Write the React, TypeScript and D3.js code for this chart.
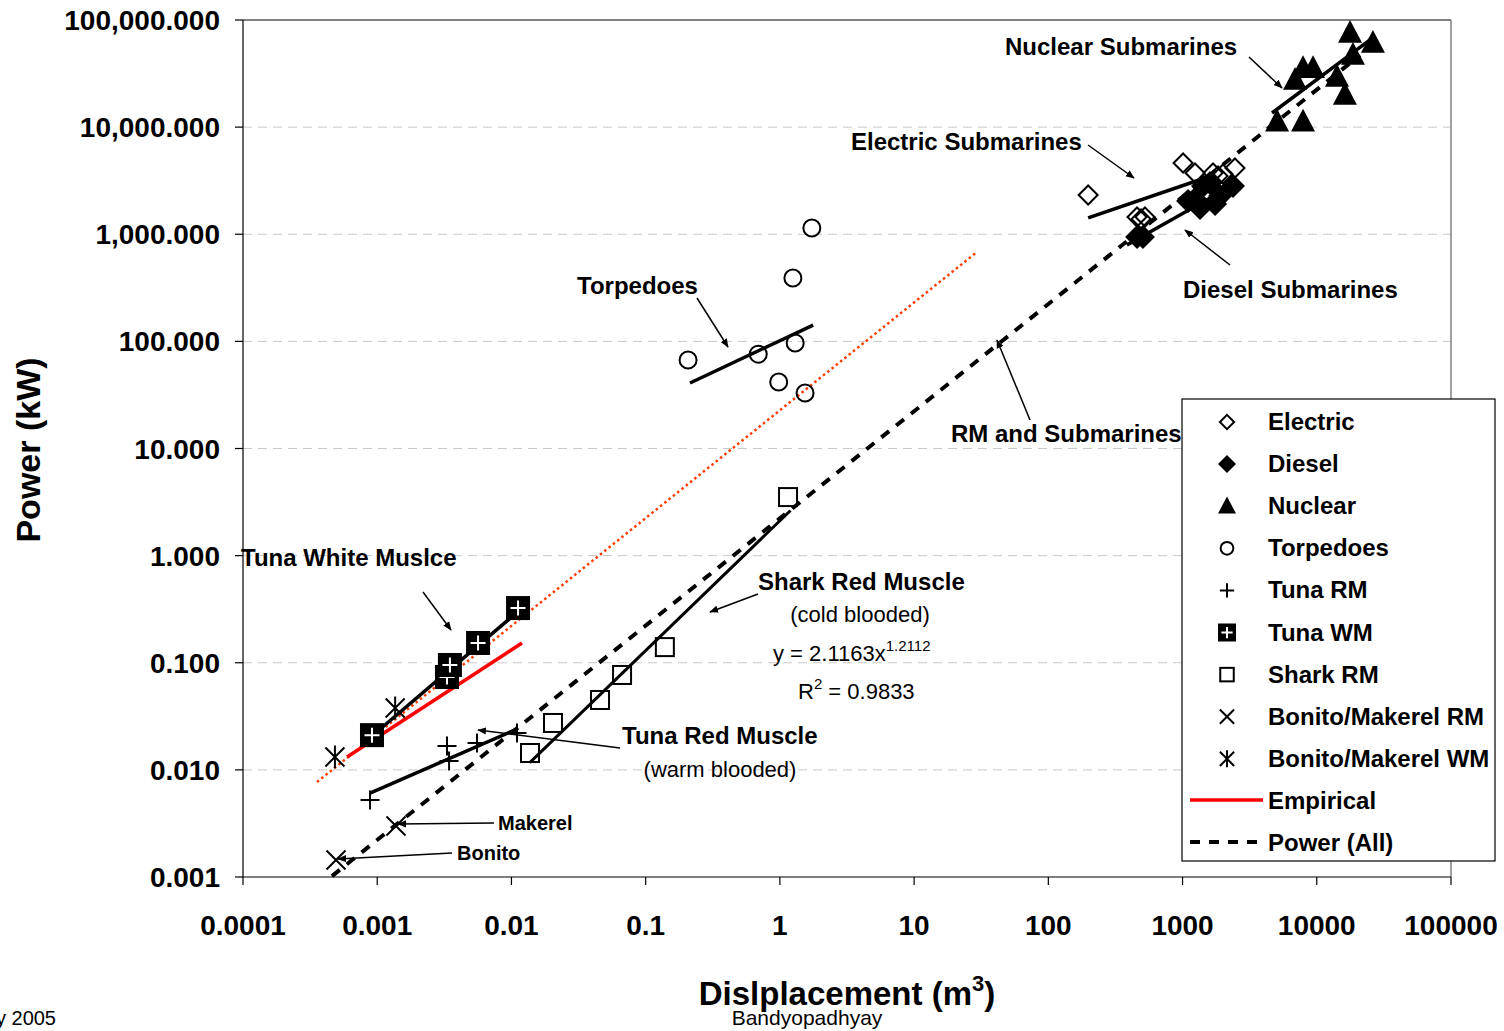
import React from "react";
import * as d3 from "d3";

// ---------- data ----------
const xTicks = [1e-4, 1e-3, 1e-2, 1e-1, 1, 10, 100, 1000, 1e4, 1e5];
const xTickLabels = ["0.0001", "0.001", "0.01", "0.1", "1", "10", "100", "1000", "10000", "100000"];
const yTicks = [1e-3, 1e-2, 1e-1, 1, 10, 100, 1000, 1e4, 1e5];
const yTickLabels = ["0.001", "0.010", "0.100", "1.000", "10.000", "100.000", "1,000.000", "10,000.000", "100,000.000"];

const electric = [
  [198, 2325], [458, 1449], [491, 1387], [525, 1449], [1009, 4624],
  [1239, 3733], [1687, 3733], [1837, 3496], [2001, 3650], [2458, 4154],
];
const diesel = [
  [458, 942], [507, 942], [1099, 2042], [1239, 2133], [1420, 2818],
  [1602, 3008], [1746, 1915], [1902, 2275], [2377, 2818], [1349, 1758],
];
const nuclear = [
  [17700, 75700], [26200, 61000], [18600, 47100], [7900, 35500], [9380, 35500],
  [6890, 27500], [14150, 29400], [16200, 20000], [5060, 11200], [7900, 11200],
];
const torpedoes = [
  [1.73, 1143], [1.25, 391], [0.207, 67], [0.69, 76], [1.3, 96.6], [0.98, 41.8], [1.54, 33],
];
const tunaRM = [
  [0.000884, 0.00524], [0.00331, 0.0167], [0.00343, 0.0121], [0.00554, 0.0178], [0.011, 0.0221],
];
const tunaWM = [
  [0.000914, 0.0211], [0.00331, 0.0736], [0.00348, 0.0953], [0.00564, 0.153], [0.0112, 0.324],
];
const sharkRM = [
  [0.01375, 0.01437], [0.0204, 0.0274], [0.0457, 0.0449], [0.0667, 0.0769], [0.139, 0.14], [1.15, 3.52],
];
const bonitoRM = [[0.000493, 0.00144], [0.00138, 0.00299]];
const bonitoWM = [[0.000484, 0.0132], [0.00136, 0.0378]];

// fitted / reference lines (end points)
const empiricalLine = [[0.000596, 0.0132], [0.01199, 0.153]];
const redDottedLine = [[0.000356, 0.0077], [29.4, 683]];
const powerAllLine = [[0.00046, 0.00102], [21000, 47000]];
const tunaWMFit = [[0.000811, 0.0182], [0.01329, 0.361]];
const tunaRMFit = [[0.000884, 0.00608], [0.01064, 0.0236]];
const sharkFit = [[0.0137, 0.0117], [1.2, 2.64]];
const torpedoFit = [[0.214, 40.9], [1.77, 142]];
const electricFit = [[198, 1419], [1469, 3350]];
const dieselFit = [[385, 794], [1603, 2180]];
const nuclearFit = [[4640, 13550], [24900, 65100]];

const legendItems = [
  "Electric", "Diesel", "Nuclear", "Torpedoes", "Tuna RM", "Tuna WM",
  "Shark RM", "Bonito/Makerel RM", "Bonito/Makerel WM", "Empirical", "Power (All)",
];

// ---------- layout ----------
const W = 1504, H = 1031;
const L = 243, R = 1451, T = 20, B = 877;
const FONT = "'Liberation Sans', Arial, sans-serif";

const x = d3.scaleLog().domain([1e-4, 1e5]).range([L, R]);
const y = d3.scaleLog().domain([1e-3, 1e5]).range([B, T]);
const line = d3.line<number[]>().x((d) => x(d[0])).y((d) => y(d[1]));

type MK = "odiamond" | "fdiamond" | "triangle" | "circle" | "plus" | "tunawm" | "square" | "x" | "asterisk";

function Marker({ kind, cx, cy, s = 1 }: { kind: MK; cx: number; cy: number; s?: number }) {
  const g = (children: React.ReactNode) => <g transform={`translate(${cx},${cy})`}>{children}</g>;
  switch (kind) {
    case "odiamond": {
      const h = 9.5 * s;
      return g(<path d={`M0,${-h}L${h},0L0,${h}L${-h},0Z`} fill="none" stroke="#000" strokeWidth={2} />);
    }
    case "fdiamond": {
      const h = 12 * s;
      return g(<path d={`M0,${-h}L${h},0L0,${h}L${-h},0Z`} fill="#000" />);
    }
    case "triangle": {
      const w = 12 * s, h = 13 * s;
      return g(<path d={`M0,${-h}L${w},${h * 0.75}L${-w},${h * 0.75}Z`} fill="#000" />);
    }
    case "circle":
      return g(<circle r={8.5 * s} fill="none" stroke="#000" strokeWidth={2} />);
    case "plus": {
      const a = 9.5 * s;
      return g(<path d={`M${-a},0H${a}M0,${-a}V${a}`} stroke="#000" strokeWidth={2} />);
    }
    case "tunawm": {
      const h = 12 * s, a = 7.5 * s;
      return g(
        <>
          <rect x={-h} y={-h} width={2 * h} height={2 * h} fill="#000" />
          <path d={`M${-a},0H${a}M0,${-a}V${a}`} stroke="#fff" strokeWidth={2} />
        </>
      );
    }
    case "square": {
      const h = 9 * s;
      return g(<rect x={-h} y={-h} width={2 * h} height={2 * h} fill="none" stroke="#000" strokeWidth={2} />);
    }
    case "x": {
      const a = 9.5 * s;
      return g(<path d={`M${-a},${-a}L${a},${a}M${-a},${a}L${a},${-a}`} stroke="#000" strokeWidth={2} />);
    }
    case "asterisk": {
      const a = 9.5 * s;
      return g(<path d={`M${-a},${-a}L${a},${a}M${-a},${a}L${a},${-a}M0,${-a * 1.2}V${a * 1.2}`} stroke="#000" strokeWidth={2} />);
    }
  }
  return null;
}

const annotations = [
  { t: "Nuclear Submarines", x: 1005, y: 55, a: [1249, 57, 1282, 88] },
  { t: "Electric Submarines", x: 851, y: 150, a: [1088, 145, 1134, 178] },
  { t: "Diesel Submarines", x: 1183, y: 298, a: [1230, 265, 1185, 230] },
  { t: "Torpedoes", x: 577, y: 294, a: [697, 298, 728, 347] },
  { t: "RM and Submarines", x: 951, y: 442, a: [1030, 420, 997, 340] },
  { t: "Tuna White Muslce", x: 241, y: 566, a: [423, 592, 451, 630] },
  { t: "Shark Red Muscle", x: 758, y: 590, a: [758, 594, 710, 612] },
  { t: "Tuna Red Muscle", x: 622, y: 744, a: [620, 748, 478, 730] },
];

export default function App() {
  const series: { data: number[][]; kind: MK }[] = [
    { data: electric, kind: "odiamond" },
    { data: diesel, kind: "fdiamond" },
    { data: nuclear, kind: "triangle" },
    { data: torpedoes, kind: "circle" },
    { data: tunaRM, kind: "plus" },
    { data: tunaWM, kind: "tunawm" },
    { data: sharkRM, kind: "square" },
    { data: bonitoRM, kind: "x" },
    { data: bonitoWM, kind: "asterisk" },
  ];
  const legendKinds: MK[] = ["odiamond", "fdiamond", "triangle", "circle", "plus", "tunawm", "square", "x", "asterisk"];
  const fits = [tunaWMFit, tunaRMFit, sharkFit, torpedoFit, electricFit, dieselFit, nuclearFit];

  return (
    <svg
      width={W}
      height={H}
      style={{ position: "absolute", left: 0, top: 0, background: "#fff" }}
      fontFamily={FONT}
    >
      <defs>
        <marker id="ah" viewBox="0 0 10 10" refX="9" refY="5" markerWidth="9" markerHeight="9" orient="auto" markerUnits="userSpaceOnUse">
          <path d="M0,1L10,5L0,9Z" fill="#000" />
        </marker>
      </defs>

      {/* grid */}
      {yTicks.slice(1, -1).map((v) => (
        <line key={v} x1={L} x2={R} y1={y(v)} y2={y(v)} stroke="#c8c8c8" strokeWidth={1} strokeDasharray="9 6" />
      ))}
      <line x1={L} x2={R} y1={T} y2={T} stroke="#808080" strokeWidth={2} />
      <line x1={R} x2={R} y1={T} y2={B} stroke="#808080" strokeWidth={1.5} />

      {/* axes */}
      <line x1={L} x2={L} y1={T} y2={B} stroke="#000" strokeWidth={1.2} />
      <line x1={L} x2={R} y1={B} y2={B} stroke="#000" strokeWidth={1.2} />
      {yTicks.map((v, i) => (
        <g key={v}>
          <line x1={L - 8} x2={L} y1={y(v)} y2={y(v)} stroke="#000" strokeWidth={1.2} />
          <text x={220} y={y(v) + 10} textAnchor="end" fontSize={28} fontWeight="bold">{yTickLabels[i]}</text>
        </g>
      ))}
      {xTicks.map((v, i) => (
        <g key={v}>
          <line x1={x(v)} x2={x(v)} y1={B} y2={B + 8} stroke="#000" strokeWidth={1.2} />
          <text x={x(v)} y={935} textAnchor="middle" fontSize={28} fontWeight="bold">{xTickLabels[i]}</text>
        </g>
      ))}

      {/* reference lines */}
      <path d={line(redDottedLine) || ""} stroke="#ff3c00" strokeWidth={2.5} strokeDasharray="2.5 3" fill="none" />
      <path d={line(powerAllLine) || ""} stroke="#000" strokeWidth={4} strokeDasharray="10 9" fill="none" />
      <path d={line(empiricalLine) || ""} stroke="#ff0000" strokeWidth={3.5} fill="none" />
      {fits.map((f, i) => (
        <path key={i} d={line(f) || ""} stroke="#000" strokeWidth={i === 2 ? 3 : 3.5} fill="none" />
      ))}

      {/* markers */}
      {series.map((s, i) =>
        s.data.map((d, j) => <Marker key={`${i}-${j}`} kind={s.kind} cx={x(d[0])} cy={y(d[1])} />)
      )}

      {/* annotations */}
      {annotations.map((a) => (
        <g key={a.t}>
          <text x={a.x} y={a.y} fontSize={24} fontWeight="bold">{a.t}</text>
          <line x1={a.a[0]} y1={a.a[1]} x2={a.a[2]} y2={a.a[3]} stroke="#000" strokeWidth={1.5} markerEnd="url(#ah)" />
        </g>
      ))}
      <text x={860} y={622} fontSize={22} textAnchor="middle">(cold blooded)</text>
      <text x={773} y={661} fontSize={22}>
        y = 2.1163x<tspan dy={-10} fontSize={15}>1.2112</tspan>
      </text>
      <text x={798} y={699} fontSize={22}>
        R<tspan dy={-10} fontSize={15}>2</tspan><tspan dy={10}> = 0.9833</tspan>
      </text>
      <text x={720} y={777} fontSize={22} textAnchor="middle">(warm blooded)</text>
      <text x={498} y={830} fontSize={20} fontWeight="bold">Makerel</text>
      <line x1={494} y1={823} x2={398} y2={824} stroke="#000" strokeWidth={1.5} markerEnd="url(#ah)" />
      <text x={457} y={860} fontSize={20} fontWeight="bold">Bonito</text>
      <line x1={452} y1={853} x2={338} y2={859} stroke="#000" strokeWidth={1.5} markerEnd="url(#ah)" />

      {/* legend */}
      <rect x={1182} y={399} width={313} height={462} fill="#fff" stroke="#000" strokeWidth={1.2} />
      {legendItems.map((t, i) => {
        const ly = 421 + i * 42.1;
        return (
          <g key={t}>
            {i < 9 && <Marker kind={legendKinds[i]} cx={1227} cy={ly + 1} s={0.75} />}
            {i === 9 && <line x1={1190} x2={1263} y1={ly} y2={ly} stroke="#ff0000" strokeWidth={3.5} />}
            {i === 10 && <line x1={1190} x2={1263} y1={ly} y2={ly} stroke="#000" strokeWidth={4} strokeDasharray="10 9" />}
            <text x={1268} y={ly + 9} fontSize={24} fontWeight="bold">{t}</text>
          </g>
        );
      })}

      {/* titles */}
      <text x={847} y={1005} textAnchor="middle" fontSize={33} fontWeight="bold">
        Dislplacement (m<tspan dy={-14} fontSize={22}>3</tspan><tspan dy={14}>)</tspan>
      </text>
      <text transform="translate(40,450) rotate(-90)" textAnchor="middle" fontSize={34} fontWeight="bold">Power (kW)</text>
      <text x={807} y={1025} textAnchor="middle" fontSize={21}>Bandyopadhyay</text>
      <text x={56} y={1025} textAnchor="end" fontSize={20}>Bandyopadhyay 2005</text>
    </svg>
  );
}
